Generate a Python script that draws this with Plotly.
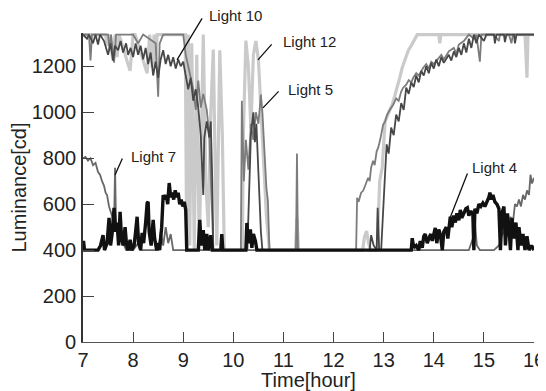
import plotly.graph_objects as go

# ---------------- data (time in hours, luminance in cd) ----------------
l12_t = [7.00, 7.45, 7.48, 7.52, 7.60, 7.64, 7.68, 7.72, 7.94, 7.97, 8.00, 8.04, 8.28, 8.33, 8.38, 8.42,
         8.45, 8.48, 8.52, 9.04, 9.07, 9.10, 9.13, 9.17, 9.22, 9.27, 9.32, 9.40, 9.45, 9.50, 9.55, 9.60,
         9.65, 9.67, 9.73, 9.78, 9.82, 10.18, 10.20, 10.25, 10.30, 10.35, 10.40, 10.45, 10.50, 10.55,
         10.60, 10.63, 10.66, 10.72, 11.24, 11.27, 11.30, 12.58, 12.62, 12.66, 12.70, 12.74, 12.87,
         12.92, 12.97, 13.03, 13.10, 13.17, 13.22, 13.27, 13.32, 13.37, 13.43, 13.49, 13.55, 13.62,
         13.67, 14.10, 14.12, 14.14, 15.82, 15.84, 15.86, 15.88, 16.00]
l12_v = [1338, 1338, 1290, 1338, 1225, 1338, 1240, 1338, 1180, 1260, 1338, 1338, 1170, 1338, 1195, 1338,
         1200, 1338, 1338, 1338, 400, 1338, 420, 1300, 400, 1250, 400, 1338, 700, 500, 1000, 1273,
         600, 420, 1270, 900, 400, 400, 900, 1312, 1200, 930, 1250, 1310, 1230, 1000,
         800, 680, 550, 400, 400, 540, 400, 400, 460, 483, 430, 400, 400,
         700, 758, 963, 1000, 1033, 1070, 1107, 1150, 1194, 1230, 1268, 1290, 1320,
         1338, 1338, 1300, 1338, 1338, 1250, 1150, 1338, 1338]

l5_t = [7.00, 7.12, 7.15, 7.18, 7.50, 7.53, 7.56, 7.62, 7.66, 8.00, 8.10, 8.20, 8.45, 8.50, 8.53, 8.60,
        9.00, 9.05, 9.10, 9.15, 9.20, 9.25, 9.30, 9.35, 9.40, 9.47, 9.52, 9.57, 9.60, 10.15, 10.17,
        10.21, 10.25, 10.30, 10.35, 10.40, 10.45, 10.50, 10.55, 10.58, 10.62, 10.66, 10.69, 10.72,
        11.25, 11.27, 11.29, 12.45, 12.47, 12.50, 12.55, 12.59, 12.63, 12.69, 12.72, 12.75, 12.79,
        12.82, 12.86, 12.89, 12.93, 12.96, 12.99, 13.03, 13.07, 13.12, 13.19, 13.25, 13.30, 13.35,
        13.39, 13.45, 13.50, 13.55, 13.59, 13.65, 13.70, 13.79, 13.85, 13.90, 13.95, 14.00, 14.07,
        14.15, 14.20, 14.30, 14.40, 14.45, 14.50, 14.60, 14.70, 14.80, 14.85, 14.92, 14.95, 15.20,
        15.30, 15.32, 15.50, 15.55, 15.58, 16.00]
l5_v = [1338, 1338, 1225, 1338, 1338, 1270, 1338, 1216, 1338, 1338, 1300, 1338, 1300, 1068, 1300, 1338,
        1338, 1250, 1200, 1155, 1100, 1010, 1138, 1020, 1080, 1010, 900, 600, 400, 400, 1050,
        700, 880, 750, 950, 880, 1000, 950, 1077, 1000, 850, 670, 615, 400,
        400, 820, 400, 400, 628, 610, 650, 658, 680, 715, 700, 760, 789,
        770, 830, 845, 880, 920, 946, 960, 990, 1010, 1033, 1060, 1050, 1090,
        1107, 1120, 1140, 1130, 1150, 1170, 1160, 1194, 1210, 1190, 1220, 1210, 1229,
        1250, 1230, 1265, 1280, 1255, 1295, 1310, 1338, 1320, 1338, 1220, 1338, 1338,
        1310, 1338, 1338, 1300, 1338, 1338]

l10_t = [7.00, 7.08, 7.12, 7.20, 7.25, 7.30, 7.34, 7.42, 7.50, 7.55, 7.60, 7.64, 7.70, 7.75, 7.80, 7.86,
         7.90, 7.95, 8.00, 8.05, 8.10, 8.15, 8.20, 8.25, 8.30, 8.35, 8.40, 8.45, 8.50, 8.55, 8.60, 8.65,
         8.70, 8.75, 8.80, 8.85, 8.90, 8.95, 9.00, 9.05, 9.10, 9.15, 9.20, 9.25, 9.30, 9.35, 9.40, 9.42,
         9.47, 9.52, 9.55, 9.58, 9.60, 10.28, 10.31, 10.35, 10.40, 10.43, 10.46, 10.50, 10.55, 10.58,
         12.72, 12.75, 12.80, 12.86, 12.88, 12.91, 12.95, 13.02, 13.06, 13.10, 13.15, 13.20, 13.25,
         13.30, 13.35, 13.40, 13.45, 13.50, 13.55, 13.60, 13.65, 13.70, 13.75, 13.80, 13.85, 13.90,
         13.95, 14.00, 14.05, 14.10, 14.15, 14.20, 14.30, 14.35, 14.40, 14.45, 14.50, 14.55, 14.60,
         14.65, 14.70, 14.75, 14.80, 14.85, 14.90, 15.00, 15.05, 15.20, 15.22, 15.25, 15.40, 15.42,
         15.45, 15.60, 15.62, 15.65, 16.00]
l10_v = [1338, 1320, 1338, 1300, 1338, 1295, 1338, 1310, 1250, 1300, 1225, 1290, 1270, 1310, 1260, 1300,
         1250, 1280, 1240, 1300, 1250, 1290, 1230, 1280, 1210, 1260, 1160, 1220, 1150, 1230, 1270, 1210,
         1250, 1200, 1240, 1190, 1230, 1200, 1220, 1150, 1100, 1150, 1050, 1100, 1020, 900, 640, 890,
         960, 890, 960, 700, 400, 400, 600, 900, 1000, 870, 950, 700, 480, 400,
         400, 465, 420, 400, 584, 400, 400, 700, 860, 820, 933, 900, 990,
         960, 1040, 1010, 1107, 1080, 1130, 1110, 1160, 1130, 1180, 1160, 1200, 1170,
         1215, 1190, 1230, 1200, 1240, 1215, 1250, 1225, 1265, 1240, 1280, 1250, 1300,
         1260, 1320, 1280, 1338, 1300, 1338, 1310, 1338, 1338, 1300, 1338, 1338, 1305,
         1338, 1338, 1300, 1338, 1338]

l7_t = [7.00, 7.05, 7.10, 7.15, 7.20, 7.25, 7.30, 7.34, 7.38, 7.42, 7.45, 7.48, 7.52, 7.56, 7.58, 7.62,
        7.64, 7.66, 7.70, 7.74, 7.78, 7.82, 7.86, 8.00, 8.10, 8.15, 8.50, 8.55, 8.60, 8.65, 8.70, 8.75,
        8.80, 14.70, 14.78, 14.82, 14.86, 14.92, 15.20, 15.30, 15.35, 15.40, 15.45, 15.50, 15.53,
        15.58, 15.62, 15.66, 15.70, 15.74, 15.78, 15.82, 15.86, 15.90, 15.93, 15.96, 16.00]
l7_v = [800, 806, 790, 800, 770, 780, 740, 728, 700, 680, 650, 640, 590, 560, 553, 520,
        758, 500, 480, 460, 430, 420, 400, 400, 430, 400, 400, 480, 420, 500, 430, 470,
        400, 400, 450, 523, 420, 400, 400, 420, 460, 480, 520, 500, 545,
        520, 600, 590, 620, 590, 640, 620, 660, 640, 728, 690, 715]

l4_t = [7.00, 7.01, 7.03, 7.30, 7.35, 7.40, 7.43, 7.48, 7.52, 7.55, 7.58, 7.62, 7.65, 7.68, 7.71, 7.74,
        7.77, 7.80, 7.84, 7.87, 7.90, 7.94, 7.97, 8.02, 8.05, 8.08, 8.11, 8.15, 8.18, 8.21, 8.25, 8.28,
        8.30, 8.32, 8.36, 8.40, 8.43, 8.47, 8.50, 8.53, 8.57, 8.60, 8.63, 8.66, 8.69, 8.72, 8.75, 8.78,
        8.81, 8.84, 8.87, 8.90, 8.93, 8.96, 8.99, 9.02, 9.05, 9.07, 9.30, 9.33, 9.36, 9.40, 9.43, 9.47,
        9.50, 9.55, 9.58, 9.75, 9.77, 9.79, 10.25, 10.27, 10.30, 10.34, 10.37, 10.40, 10.44, 10.47,
        13.55, 13.57, 13.60, 13.65, 13.70, 13.73, 13.77, 13.80, 13.83, 13.87, 13.90, 13.94, 13.97,
        14.00, 14.03, 14.06, 14.10, 14.13, 14.17, 14.20, 14.25, 14.28, 14.33, 14.36, 14.40, 14.43,
        14.46, 14.50, 14.53, 14.56, 14.60, 14.64, 14.67, 14.70, 14.74, 14.78, 14.80, 14.82, 14.86,
        14.90, 14.94, 14.98, 15.02, 15.06, 15.10, 15.12, 15.15, 15.18, 15.22, 15.26, 15.30, 15.33,
        15.36, 15.40, 15.43, 15.47, 15.50, 15.53, 15.56, 15.60, 15.64, 15.68, 15.70, 15.74, 15.78,
        15.82, 15.86, 15.90, 15.95, 16.00]
l4_v = [400, 440, 400, 400, 420, 465, 400, 430, 540, 420, 470, 584, 480, 520, 420, 567,
        450, 420, 500, 420, 400, 445, 400, 420, 480, 545, 430, 400, 475, 430, 520, 605,
        610, 480, 420, 532, 450, 400, 430, 400, 500, 640, 620, 640, 600, 692, 630, 650,
        620, 660, 630, 650, 600, 620, 590, 610, 575, 400, 400, 532, 420, 487, 400, 470,
        400, 465, 400, 400, 470, 400, 400, 518, 430, 490, 410, 470, 440, 400,
        400, 452, 410, 420, 400, 440, 410, 460, 470, 430, 450, 470, 440,
        480, 497, 430, 490, 470, 400, 480, 500, 450, 545, 500, 550, 520,
        560, 530, 575, 540, 560, 580, 584, 550, 570, 554, 400, 580, 560,
        600, 590, 605, 590, 610, 630, 650, 620, 640, 610, 600, 580, 400,
        560, 590, 420, 560, 500, 400, 540, 450, 520, 400, 500, 420, 470,
        400, 460, 400, 420, 400]

x_ticks = [7, 8, 9, 10, 11, 12, 13, 14, 15, 16]
y_ticks = [0, 200, 400, 600, 800, 1000, 1200]

series = [
    ("Light 12", l12_t, l12_v, "#cacaca", 3.2),
    ("Light 5", l5_t, l5_v, "#7c7c7c", 1.8),
    ("Light 10", l10_t, l10_v, "#474747", 1.8),
    ("Light 7", l7_t, l7_v, "#686868", 1.8),
    ("Light 4", l4_t, l4_v, "#111111", 3.4),
]

fig = go.Figure()
for name, t, v, col, w in series:
    fig.add_trace(go.Scatter(x=t, y=v, mode="lines", name=name,
                             line=dict(color=col, width=w), showlegend=False))

FONT = "Liberation Sans, Arial, sans-serif"

# label texts (paper coords) and leader lines (arrow heads on data)
labels = [
    ("Light 10", 0.275, 1.058, 8.876, 1228, 26, -43),
    ("Light 12", 0.439, 0.971, 10.492, 1228, 15, -17),
    ("Light 5", 0.450, 0.816, 10.592, 1019, 17, -18),
    ("Light 7", 0.102, 0.599, 7.639, 727, 8, -18),
    ("Light 4", 0.858, 0.566, 14.324, 540, 18, -46),
]
for txt, xp, yp, hx, hy, axo, ayo in labels:
    fig.add_annotation(text=txt, xref="paper", yref="paper", x=xp, y=yp,
                       xanchor="left", yanchor="middle", showarrow=False,
                       font=dict(family=FONT, size=15, color="#222"))
    fig.add_annotation(text="", x=hx, y=hy, xref="x", yref="y", ax=axo, ay=ayo,
                       showarrow=True, arrowhead=0, arrowwidth=1.3, arrowcolor="#111",
                       standoff=0, startstandoff=0)

# the page body adds an 8px offset, so the figure is 8px smaller on each side
fig.update_layout(
    width=538, height=383,
    margin=dict(l=75, r=12, t=25, b=49, autoexpand=False),
    paper_bgcolor="white", plot_bgcolor="white",
    font=dict(family=FONT, size=20, color="#222"),
)
fig.update_xaxes(range=[7, 16], tickvals=x_ticks, ticktext=[str(v) for v in x_ticks],
                 ticks="inside", ticklen=10, tickwidth=1, tickcolor="#444",
                 showline=True, linecolor="#555", linewidth=1.2, showgrid=False, zeroline=False,
                 tickfont=dict(size=20), ticklabelstandoff=0, automargin=False,
                 title=dict(text="Time[hour]", font=dict(size=20), standoff=0))
fig.update_yaxes(range=[0, 1345], tickvals=y_ticks, ticktext=[str(v) for v in y_ticks],
                 ticks="inside", ticklen=11, tickwidth=1.2, tickcolor="#444",
                 showline=True, linecolor="#333", linewidth=1.6, showgrid=False, zeroline=False,
                 tickfont=dict(size=20), ticklabelstandoff=1, automargin=False,
                 title=dict(text="Luminance[cd]", font=dict(size=20), standoff=0))

fig.write_html("out.html")
